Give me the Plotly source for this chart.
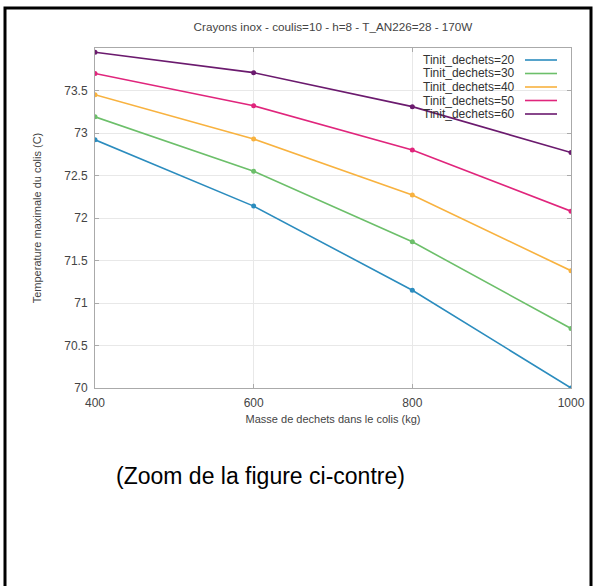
import plotly.graph_objects as go

masse = [400, 600, 800, 1000]
tinit = [20, 30, 40, 50, 60]
t20 = [72.92, 72.14, 71.15, 70.00]
t30 = [73.19, 72.55, 71.72, 70.70]
t40 = [73.45, 72.93, 72.27, 71.38]
t50 = [73.70, 73.32, 72.80, 72.08]
t60 = [73.95, 73.71, 73.31, 72.77]
series = [t20, t30, t40, t50, t60]
colors = ['#2b8cbe', '#6cbf6a', '#f8b23f', '#e0257c', '#6b1a6e']
yticks = [70, 70.5, 71, 71.5, 72, 72.5, 73, 73.5]
xticks = [400, 600, 800, 1000]

W, H = 597, 586
L, R, T, B = 95, 571, 48, 388
pw, ph = R - L, B - T

def px(x):
    return (x - L) / pw

def py(y):
    return (B - y) / ph

fig = go.Figure()
for t, vals, c in zip(tinit, series, colors):
    fig.add_trace(go.Scatter(
        x=masse, y=vals, mode='lines+markers', name=f'Tinit_dechets={t}',
        line=dict(color=c, width=1.6), marker=dict(color=c, size=5),
        showlegend=False))

font = 'Liberation Sans, Arial, sans-serif'
annotations = []
shapes = []
for i, (t, c) in enumerate(zip(tinit, colors)):
    yc = 60 + 13.5 * i
    annotations.append(dict(xref='paper', yref='paper', x=px(517), y=py(yc),
                            text=f'Tinit_dechets={t}', showarrow=False,
                            xanchor='right', yanchor='middle',
                            font=dict(family=font, size=12, color='#333333')))
    shapes.append(dict(type='line', xref='paper', yref='paper',
                       x0=px(525), x1=px(557), y0=py(yc), y1=py(yc),
                       line=dict(color=c, width=1.6)))

annotations.append(dict(xref='paper', yref='paper', x=px(260), y=py(476),
                        text='(Zoom de la figure ci-contre)', showarrow=False,
                        xanchor='center', yanchor='middle',
                        font=dict(family=font, size=23, color='#000000')))
shapes.append(dict(type='rect', xref='paper', yref='paper',
                   x0=px(5), x1=px(591), y0=py(8), y1=py(600),
                   line=dict(color='black', width=3), fillcolor='rgba(0,0,0,0)'))

fig.update_layout(
    width=W, height=H,
    margin=dict(l=L, r=W - R, t=T, b=H - B),
    paper_bgcolor='white', plot_bgcolor='white',
    font=dict(family=font, size=12, color='#444444'),
    title=dict(text='Crayons inox - coulis=10 - h=8 - T_AN226=28 - 170W',
               x=0.5, xref='paper', xanchor='center',
               y=1 - 27 / H, yref='container', yanchor='middle',
               font=dict(family=font, size=11.7, color='#444444')),
    annotations=annotations, shapes=shapes,
)
fig.update_xaxes(range=[400, 1000], tickvals=xticks, ticks='inside', ticklen=4,
                 tickcolor='#aaaaaa', showline=True, linecolor='#aaaaaa',
                 mirror='ticks', showgrid=True, gridcolor='#e8e8e8', zeroline=False,
                 ticklabelstandoff=4,
                 title=dict(text='Masse de dechets dans le colis (kg)', standoff=5,
                            font=dict(size=11, color='#444444')))
fig.update_yaxes(range=[70, 74], tickvals=yticks, ticks='inside', ticklen=4,
                 tickcolor='#aaaaaa', showline=True, linecolor='#aaaaaa',
                 mirror='ticks', showgrid=True, gridcolor='#e8e8e8', zeroline=False,
                 ticklabelstandoff=4,
                 title=dict(text='Temperature maximale du colis (C)', standoff=20,
                            font=dict(size=11, color='#444444')))
fig.write_html('out.html')
